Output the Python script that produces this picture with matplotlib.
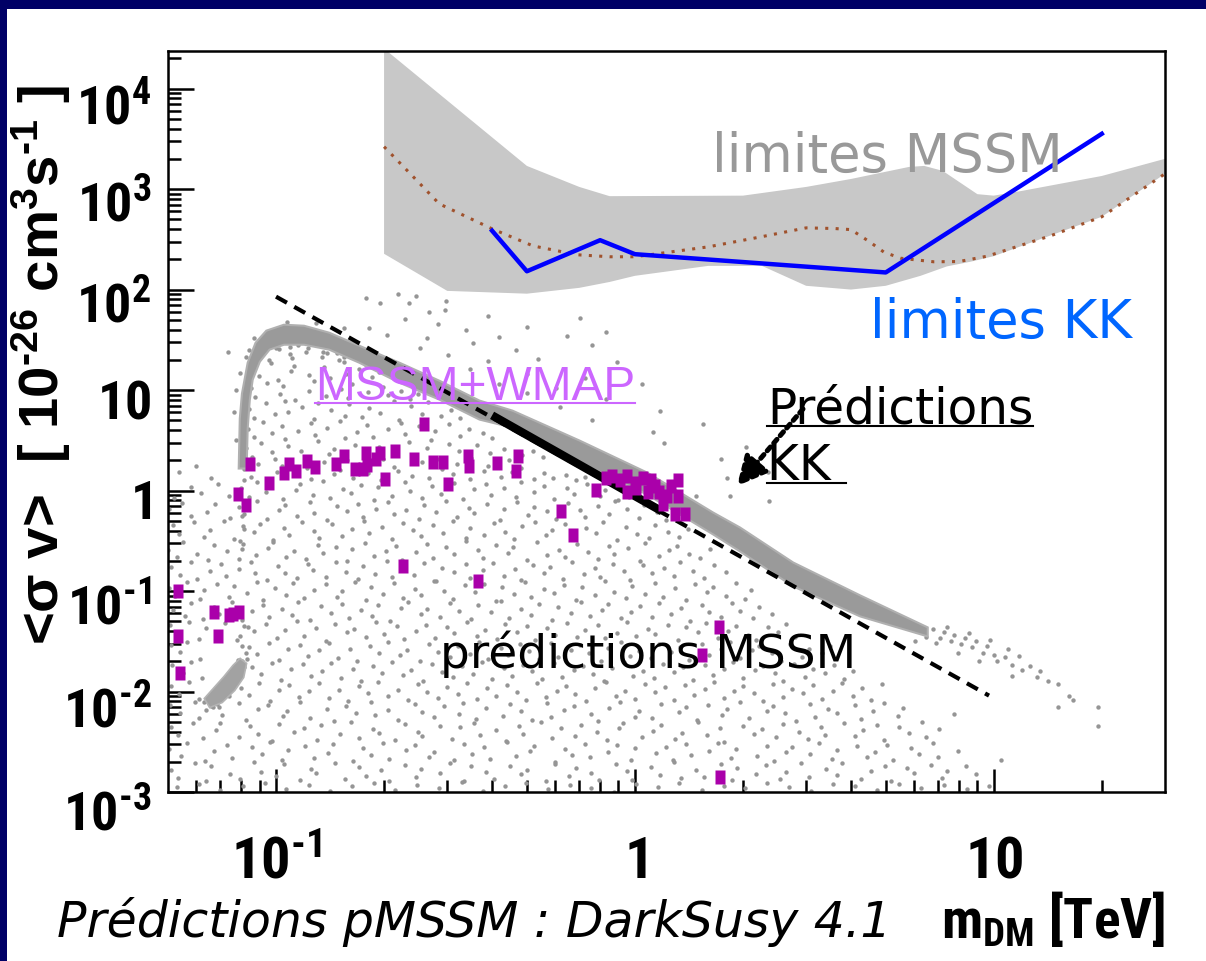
import os
import numpy as np
import matplotlib
matplotlib.use("Agg")
import matplotlib.pyplot as plt
from matplotlib import font_manager as fm
from matplotlib.font_manager import FontProperties
from matplotlib.lines import Line2D
from matplotlib.patches import Rectangle
import matplotlib.transforms as mtransforms
from matplotlib.ticker import NullFormatter

# ------------------------------------------------------------------ data
# grey band : "limites MSSM"
band_m_upper = [0.2, 0.5, 0.7, 0.85, 2.0, 3.0, 4.0, 5.8, 6.4, 7.2, 9.0, 10.0, 12.0, 20.0, 30.0]
band_sv_upper = [25000, 1700, 1050, 850, 860, 1050, 1260, 1660, 1700, 1520, 890, 860, 960, 1350, 2000]
band_m_lower = [0.2, 0.3, 0.5, 0.7, 0.85, 1.0, 1.6, 2.26, 3.0, 4.0, 5.0, 6.25, 7.4, 8.6, 10.0, 20.0, 30.0]
band_sv_lower = [227, 97, 91, 104, 119, 137, 172, 172, 109, 100, 109, 137, 170, 189, 215, 530, 1420]

# brown dotted curve inside the band
mssm_limit_m = [0.2, 0.24, 0.285, 0.4, 0.52, 0.69, 0.85, 1.0, 1.6, 2.2, 3.0, 3.6, 4.0, 4.5, 4.94, 5.5, 6.8, 8.0, 9.6, 14.4, 20, 30]
mssm_limit_sv = [2640, 1350, 713, 402, 272, 222, 212, 212, 266, 330, 411, 405, 395, 300, 236, 205, 189, 190, 215, 343, 530, 1420]

# blue line : "limites KK"
kk_limit_m = [0.4, 0.5, 0.8, 1.0, 5.0, 20.0]
kk_limit_sv = [385, 152, 310, 225, 148, 3550]

# KK predictions (dashed) and KK + WMAP (thick)
kk_pred_m = [0.1, 9.7]
kk_pred_sv = [85, 0.0091]
kk_wmap_m = [0.4, 1.19]
kk_wmap_sv = [5.6, 0.62]

# MSSM + WMAP points (magenta)
wmap_m = [0.0845, 0.0783, 0.0824, 0.0955, 0.105, 0.109, 0.114, 0.122, 0.128, 0.147,
          0.155, 0.166, 0.175, 0.178, 0.179, 0.190, 0.195, 0.201, 0.214, 0.259,
          0.242, 0.273, 0.292, 0.302, 0.342, 0.344, 0.414, 0.466, 0.471, 0.621,
          0.778, 0.671, 0.863, 0.951, 0.951, 1.05, 1.11, 1.09, 1.17, 1.23,
          1.20, 1.01, 1.32, 1.32, 1.29, 1.38, 0.0532, 0.0532, 0.0540, 0.0671,
          0.0689, 0.0740, 0.0789, 0.0760, 0.226, 0.366, 1.71, 1.54, 1.73, 0.908,
          1.14, 1.26, 1.00, 0.83]
wmap_sv = [1.85, 0.933, 0.71, 1.20, 1.48, 1.85, 1.58, 1.99, 1.73, 1.85,
           2.23, 1.62, 1.62, 2.39, 1.81, 2.08, 2.39, 1.29, 2.50, 4.63,
           2.08, 1.94, 1.94, 1.15, 2.23, 1.77, 1.90, 1.55, 2.23, 0.632,
           1.02, 0.357, 1.41, 1.38, 0.977, 1.32, 1.26, 0.977, 0.977, 0.89,
           0.74, 1.05, 1.26, 0.89, 0.59, 0.59, 0.099, 0.0354, 0.0152, 0.0612,
           0.0354, 0.0571, 0.0612, 0.0590, 0.176, 0.127, 0.0435, 0.0229, 0.0014, 1.26,
           1.12, 1.12, 1.20, 1.32]

# dense ridge of the pMSSM scan (log10 m, log10 <sv>), upper and lower edge
ridge_log_m_upper = [-1.104, -1.101, -1.095, -1.079, -1.057, -1.027, -0.978, -0.922, -0.852, -0.768, -0.656,
                     -0.545, -0.433, -0.341, -0.154, 0.034, 0.218, 0.293, 0.441, 0.628, 0.816]
ridge_log_sv_upper = [0.219, 0.716, 0.964, 1.272, 1.471, 1.591, 1.650, 1.640, 1.571, 1.441, 1.272,
                      1.093, 0.895, 0.795, 0.497, 0.179, -0.219, -0.368, -0.716, -1.044, -1.362]
ridge_log_m_lower = [-1.082, -1.079, -1.073, -1.065, -1.045, -1.018, -0.978, -0.922, -0.852, -0.768, -0.656,
                     -0.545, -0.433, -0.341, -0.154, 0.034, 0.218, 0.293, 0.441, 0.628, 0.816]
ridge_log_sv_lower = [0.219, 0.616, 0.905, 1.103, 1.282, 1.402, 1.451, 1.451, 1.402, 1.272, 1.073,
                      0.905, 0.706, 0.626, 0.278, -0.040, -0.437, -0.606, -0.954, -1.253, -1.452]

# dense light-mass clump near m ~ 0.07 TeV (log10 m, log10 <sv>)
clump_log_m = [-1.185, -1.20, -1.175, -1.145, -1.12, -1.10, -1.082, -1.09, -1.115, -1.15]
clump_log_sv = [-2.16, -2.07, -1.97, -1.85, -1.74, -1.67, -1.72, -1.86, -1.99, -2.11]

# scattered pMSSM scan points (log10 m, log10 <sv>), one row per strip of <sv>
scan_rows = [
    ([-1.041, -1.019, -0.992, -0.961, -0.955, -0.917, -0.872, -0.858, -0.824],
     [1.337, 1.301, 1.412, 1.356, 1.318, 1.381, 1.329, 1.364, 1.303]),
    ([-1.062, -1.047, -1.013, -0.995, -0.958, -0.951, -0.907, -0.866, -0.849, -0.811, -0.806, -0.769,
      -0.733, -0.712],
     [1.214, 1.137, 1.268, 1.102, 1.189, 1.243, 1.151, 1.226, 1.117, 1.279, 1.164, 1.205, 1.128, 1.176]),
    ([-1.071, -1.058, -1.026, -0.989, -0.981, -0.946, -0.909, -0.893, -0.861, -0.818, -0.799, -0.787,
      -0.744, -0.702, -0.689, -0.651, -0.628, -0.604],
     [1.018, 0.927, 1.073, 0.964, 1.041, 0.902, 0.989, 1.086, 0.943, 1.012, 0.916, 1.057, 0.979, 1.034,
      0.951, 0.991, 0.912, 0.958]),
    ([-1.074, -1.061, -1.029, -1.003, -0.976, -0.968, -0.929, -0.894, -0.882, -0.846, -0.808, -0.797,
      -0.761, -0.742, -0.709, -0.671, -0.658, -0.623, -0.592, -0.577, -0.541, -0.513, -0.486],
     [0.811, 0.724, 0.868, 0.757, 0.893, 0.782, 0.836, 0.713, 0.874, 0.798, 0.746, 0.859, 0.728, 0.817,
      0.771, 0.889, 0.704, 0.842, 0.763, 0.881, 0.739, 0.804, 0.721]),
    ([-1.079, -1.062, -1.037, -1.011, -0.983, -0.974, -0.938, -0.902, -0.891, -0.857, -0.821, -0.809,
      -0.773, -0.747, -0.729, -0.688, -0.652, -0.641, -0.603, -0.569, -0.556, -0.519, -0.488, -0.462,
      -0.424, -0.397],
     [0.613, 0.537, 0.682, 0.571, 0.644, 0.508, 0.597, 0.669, 0.552, 0.624, 0.691, 0.518, 0.586, 0.657,
      0.531, 0.608, 0.677, 0.563, 0.641, 0.503, 0.589, 0.664, 0.541, 0.617, 0.572, 0.526]),
    ([-1.083, -1.068, -1.041, -1.012, -1.004, -0.967, -0.931, -0.919, -0.884, -0.853, -0.838, -0.801,
      -0.779, -0.748, -0.713, -0.702, -0.664, -0.629, -0.611, -0.578, -0.552, -0.518, -0.491, -0.457,
      -0.441, -0.403, -0.366, -0.351, -0.314, -0.283, -0.257],
     [0.421, 0.336, 0.474, 0.381, 0.309, 0.446, 0.392, 0.327, 0.488, 0.362, 0.413, 0.304, 0.457, 0.371,
      0.433, 0.318, 0.401, 0.479, 0.344, 0.426, 0.311, 0.463, 0.389, 0.327, 0.452, 0.376, 0.418, 0.302,
      0.358, 0.397, 0.331]),
    ([-1.089, -1.071, -1.049, -1.021, -0.996, -0.984, -0.949, -0.913, -0.902, -0.866, -0.839, -0.821,
      -0.786, -0.759, -0.744, -0.707, -0.671, -0.659, -0.622, -0.593, -0.574, -0.538, -0.507, -0.496,
      -0.459, -0.421, -0.408, -0.372, -0.343, -0.318, -0.281, -0.252, -0.229, -0.191, -0.163, -0.138,
      -1.271, -1.224, -1.181],
     [0.214, 0.137, 0.268, 0.102, 0.189, 0.243, 0.151, 0.226, 0.117, 0.279, 0.164, 0.205, 0.128, 0.252,
      0.176, 0.107, 0.236, 0.194, 0.143, 0.287, 0.122, 0.217, 0.169, 0.261, 0.111, 0.198, 0.247, 0.134,
      0.182, 0.229, 0.115, 0.171, 0.121, 0.158, 0.106, 0.139, 0.182, 0.244, 0.129]),
    ([-1.098, -1.076, -1.053, -1.029, -1.017, -0.981, -0.944, -0.932, -0.897, -0.868, -0.851, -0.814,
      -0.791, -0.762, -0.727, -0.716, -0.678, -0.641, -0.627, -0.594, -0.566, -0.541, -0.503, -0.479,
      -0.447, -0.414, -0.402, -0.366, -0.331, -0.318, -0.281, -0.254, -0.226, -0.189, -0.171, -0.133,
      -0.098, -0.084, -0.047, -0.016, -1.284, -1.236, -1.208, -1.163, -1.131],
     [0.027, -0.064, 0.081, -0.018, 0.052, -0.089, 0.006, 0.069, -0.041, 0.093, -0.072, 0.018, -0.026,
      0.058, -0.093, 0.037, -0.051, 0.084, -0.009, -0.077, 0.046, -0.034, 0.071, -0.086, 0.013, 0.064,
      -0.047, 0.029, -0.069, 0.089, -0.012, 0.043, -0.081, 0.021, -0.038, 0.061, -0.058, 0.004, -0.092,
      -0.062, -0.071, 0.031, -0.028, 0.064, -0.052]),
    ([-1.297, -1.262, -1.238, -1.193, -1.171, -1.128, -1.102, -1.088, -1.053, -1.026, -0.991, -0.976,
      -0.942, -0.906, -0.893, -0.858, -0.829, -0.801, -0.772, -0.758, -0.722, -0.687, -0.671, -0.638,
      -0.603, -0.589, -0.554, -0.527, -0.496, -0.463, -0.448, -0.412, -0.377, -0.364, -0.328, -0.297,
      -0.282, -0.246, -0.219, -0.187, -0.154, -0.139, -0.102, -0.071, -0.056, -0.021, 0.012, 0.026,
      0.061, 0.087],
     [-0.183, -0.126, -0.257, -0.209, -0.138, -0.274, -0.164, -0.231, -0.108, -0.287, -0.196, -0.142,
      -0.249, -0.118, -0.221, -0.292, -0.157, -0.203, -0.131, -0.266, -0.179, -0.112, -0.238, -0.191,
      -0.283, -0.146, -0.214, -0.105, -0.259, -0.172, -0.226, -0.134, -0.297, -0.188, -0.119, -0.243,
      -0.167, -0.206, -0.279, -0.124, -0.198, -0.262, -0.151, -0.234, -0.109, -0.186, -0.271, -0.139,
      -0.218, -0.289]),
    ([-1.288, -1.271, -1.229, -1.201, -1.184, -1.146, -1.118, -1.093, -1.062, -1.044, -1.008, -0.979,
      -0.963, -0.928, -0.894, -0.881, -0.843, -0.816, -0.789, -0.754, -0.741, -0.704, -0.677, -0.646,
      -0.619, -0.597, -0.563, -0.536, -0.508, -0.472, -0.459, -0.421, -0.394, -0.363, -0.336, -0.314,
      -0.279, -0.247, -0.231, -0.196, -0.168, -0.137, -0.109, -0.088, -0.051, -0.026, 0.007, 0.038,
      0.056, 0.092, 0.124, 0.147],
     [-0.347, -0.431, -0.318, -0.462, -0.389, -0.306, -0.478, -0.356, -0.417, -0.329, -0.494, -0.371,
      -0.442, -0.311, -0.403, -0.468, -0.337, -0.451, -0.382, -0.304, -0.426, -0.363, -0.487, -0.322,
      -0.397, -0.456, -0.341, -0.419, -0.301, -0.473, -0.368, -0.438, -0.326, -0.409, -0.482, -0.352,
      -0.314, -0.447, -0.394, -0.336, -0.463, -0.377, -0.421, -0.309, -0.489, -0.358, -0.432, -0.476,
      -0.343, -0.411, -0.462, -0.386]),
    ([-1.301, -1.276, -1.258, -1.221, -1.189, -1.173, -1.138, -1.104, -1.091, -1.057, -1.021, -1.008,
      -0.972, -0.951, -0.916, -0.882, -0.869, -0.834, -0.801, -0.788, -0.752, -0.726, -0.693, -0.667,
      -0.649, -0.611, -0.578, -0.562, -0.527, -0.503, -0.471, -0.438, -0.422, -0.386, -0.354, -0.339,
      -0.302, -0.274, -0.246, -0.212, -0.196, -0.161, -0.131, -0.103, -0.072, -0.057, -0.019, 0.013,
      0.029, 0.066, 0.094, 0.118, 0.152, 0.181, 0.209],
     [-0.589, -0.663, -0.517, -0.628, -0.692, -0.546, -0.604, -0.679, -0.531, -0.643, -0.572, -0.508,
      -0.661, -0.597, -0.684, -0.538, -0.619, -0.562, -0.698, -0.584, -0.524, -0.649, -0.606, -0.551,
      -0.687, -0.613, -0.529, -0.671, -0.557, -0.634, -0.502, -0.594, -0.676, -0.543, -0.621, -0.566,
      -0.695, -0.511, -0.639, -0.587, -0.658, -0.534, -0.612, -0.681, -0.549, -0.627, -0.571, -0.699,
      -0.518, -0.653, -0.592, -0.547, -0.636, -0.668, -0.579]),
    ([-1.293, -1.267, -1.236, -1.219, -1.184, -1.152, -1.139, -1.103, -1.071, -1.058, -1.024, -0.994,
      -0.976, -0.941, -0.912, -0.897, -0.861, -0.834, -0.806, -0.772, -0.759, -0.724, -0.691, -0.676,
      -0.642, -0.616, -0.587, -0.553, -0.538, -0.504, -0.472, -0.459, -0.423, -0.396, -0.366, -0.334,
      -0.318, -0.284, -0.252, -0.237, -0.201, -0.174, -0.143, -0.112, -0.097, -0.062, -0.031, -0.014,
      0.022, 0.049, 0.081, 0.108, 0.126, 0.163, 0.192, 0.221, 0.254],
     [-0.764, -0.838, -0.712, -0.877, -0.796, -0.729, -0.853, -0.781, -0.707, -0.824, -0.893, -0.748,
      -0.819, -0.871, -0.733, -0.789, -0.856, -0.716, -0.807, -0.884, -0.752, -0.828, -0.703, -0.863,
      -0.776, -0.841, -0.724, -0.897, -0.768, -0.812, -0.736, -0.869, -0.791, -0.718, -0.846, -0.784,
      -0.892, -0.741, -0.817, -0.759, -0.878, -0.709, -0.833, -0.772, -0.859, -0.727, -0.801, -0.887,
      -0.744, -0.822, -0.766, -0.851, -0.713, -0.798, -0.874, -0.739, -0.815]),
    ([-1.298, -1.281, -1.247, -1.213, -1.201, -1.164, -1.131, -1.116, -1.082, -1.053, -1.037, -1.002,
      -0.971, -0.954, -0.921, -0.893, -0.862, -0.829, -0.816, -0.781, -0.749, -0.736, -0.702, -0.671,
      -0.647, -0.613, -0.596, -0.561, -0.532, -0.508, -0.473, -0.446, -0.421, -0.387, -0.371, -0.337,
      -0.306, -0.289, -0.253, -0.226, -0.198, -0.164, -0.148, -0.112, -0.083, -0.058, -0.024, -0.008,
      0.027, 0.057, 0.078, 0.113, 0.141, 0.167, 0.201, 0.218, 0.253, 0.281, 0.306, 0.324],
     [-0.973, -1.048, -0.912, -1.082, -0.991, -0.927, -1.061, -0.954, -1.023, -0.906, -1.094, -0.968,
      -1.037, -0.917, -1.071, -0.986, -0.933, -1.056, -1.002, -0.908, -1.087, -0.961, -1.029, -0.921,
      -1.068, -0.976, -1.043, -0.903, -0.997, -1.079, -0.941, -1.014, -0.926, -1.097, -0.958, -1.033,
      -0.913, -1.064, -0.982, -1.019, -0.937, -1.089, -0.964, -1.041, -0.904, -1.007, -1.073, -0.949,
      -1.026, -0.918, -1.058, -0.971, -1.092, -0.934, -1.011, -0.963, -1.049, -0.922, -1.076, -0.987]),
    ([-1.287, -1.253, -1.238, -1.204, -1.172, -1.158, -1.123, -1.094, -1.068, -1.036, -1.019, -0.984,
      -0.956, -0.939, -0.904, -0.874, -0.847, -0.816, -0.798, -0.762, -0.733, -0.716, -0.683, -0.652,
      -0.631, -0.597, -0.578, -0.544, -0.514, -0.489, -0.456, -0.437, -0.401, -0.373, -0.352, -0.318,
      -0.289, -0.266, -0.232, -0.214, -0.179, -0.151, -0.126, -0.092, -0.074, -0.039, -0.011, 0.014,
      0.047, 0.066, 0.101, 0.129, 0.153, 0.187, 0.206, 0.241, 0.271, 0.293, 0.328, 0.346, 0.381],
     [-1.186, -1.252, -1.117, -1.279, -1.163, -1.224, -1.108, -1.291, -1.197, -1.141, -1.263, -1.174,
      -1.236, -1.112, -1.284, -1.153, -1.219, -1.127, -1.271, -1.192, -1.248, -1.136, -1.296, -1.168,
      -1.106, -1.229, -1.181, -1.257, -1.121, -1.203, -1.276, -1.144, -1.213, -1.102, -1.267, -1.178,
      -1.239, -1.131, -1.287, -1.159, -1.221, -1.114, -1.247, -1.189, -1.133, -1.273, -1.206, -1.149,
      -1.259, -1.118, -1.231, -1.172, -1.294, -1.139, -1.211, -1.256, -1.124, -1.198, -1.268, -1.156,
      -1.227]),
    ([-1.296, -1.279, -1.243, -1.216, -1.196, -1.161, -1.143, -1.108, -1.079, -1.061, -1.027, -0.997,
      -0.974, -0.941, -0.922, -0.889, -0.861, -0.836, -0.803, -0.784, -0.749, -0.721, -0.698, -0.664,
      -0.643, -0.609, -0.581, -0.557, -0.523, -0.504, -0.469, -0.441, -0.418, -0.384, -0.363, -0.329,
      -0.301, -0.278, -0.244, -0.223, -0.189, -0.161, -0.138, -0.104, -0.083, -0.049, -0.021, 0.002,
      0.036, 0.057, 0.091, 0.119, 0.142, 0.176, 0.197, 0.231, 0.259, 0.282, 0.316, 0.337, 0.371, 0.399,
      0.422, 0.447],
     [-1.341, -1.418, -1.307, -1.473, -1.372, -1.436, -1.319, -1.489, -1.356, -1.402, -1.331, -1.464,
      -1.387, -1.302, -1.448, -1.363, -1.497, -1.324, -1.411, -1.378, -1.456, -1.312, -1.429, -1.349,
      -1.481, -1.396, -1.336, -1.467, -1.358, -1.421, -1.304, -1.443, -1.384, -1.477, -1.328, -1.407,
      -1.352, -1.492, -1.369, -1.433, -1.315, -1.459, -1.391, -1.343, -1.472, -1.414, -1.308, -1.449,
      -1.376, -1.427, -1.339, -1.486, -1.361, -1.408, -1.321, -1.469, -1.394, -1.346, -1.438, -1.483,
      -1.357, -1.412, -1.329, -1.453]),
    ([-1.294, -1.268, -1.249, -1.213, -1.074, -1.052, -1.019, -0.993, -0.968, -0.934, -0.912, -0.879,
      -0.853, -0.827, -0.793, -0.773, -0.738, -0.712, -0.688, -0.654, -0.634, -0.599, -0.574, -0.548,
      -0.514, -0.494, -0.459, -0.434, -0.408, -0.374, -0.354, -0.319, -0.294, -0.268, -0.234, -0.214,
      -0.179, -0.154, -0.128, -0.094, -0.074, -0.039, -0.014, 0.012, 0.046, 0.066, 0.101, 0.126, 0.152,
      0.186, 0.206, 0.241, 0.266, 0.292, 0.326, 0.346, 0.381, 0.406, 0.432, 0.466, 0.486, 0.521, 0.544],
     [-1.538, -1.611, -1.504, -1.673, -1.559, -1.627, -1.513, -1.688, -1.572, -1.536, -1.649, -1.591,
      -1.521, -1.664, -1.577, -1.698, -1.546, -1.618, -1.507, -1.637, -1.582, -1.694, -1.529, -1.603,
      -1.659, -1.551, -1.624, -1.511, -1.681, -1.568, -1.641, -1.531, -1.596, -1.677, -1.518, -1.655,
      -1.584, -1.541, -1.621, -1.692, -1.564, -1.509, -1.647, -1.593, -1.669, -1.524, -1.606, -1.557,
      -1.686, -1.532, -1.634, -1.579, -1.503, -1.662, -1.589, -1.547, -1.613, -1.699, -1.526, -1.652,
      -1.574, -1.617, -1.543]),
    ([-1.289, -1.258, -1.237, -1.207, -1.066, -1.043, -1.011, -0.986, -0.957, -0.926, -0.903, -0.871,
      -0.846, -0.818, -0.786, -0.763, -0.731, -0.706, -0.678, -0.646, -0.623, -0.591, -0.566, -0.538,
      -0.506, -0.483, -0.451, -0.426, -0.398, -0.366, -0.343, -0.311, -0.286, -0.258, -0.226, -0.203,
      -0.171, -0.146, -0.118, -0.086, -0.063, -0.031, -0.006, 0.022, 0.054, 0.077, 0.109, 0.134, 0.162,
      0.194, 0.217, 0.249, 0.274, 0.302, 0.334, 0.357, 0.389, 0.414, 0.442, 0.474, 0.497, 0.529, 0.554,
      0.582, 0.609],
     [-1.741, -1.812, -1.704, -1.869, -1.758, -1.826, -1.719, -1.887, -1.773, -1.731, -1.848, -1.796,
      -1.712, -1.863, -1.779, -1.898, -1.744, -1.817, -1.708, -1.836, -1.784, -1.893, -1.727, -1.802,
      -1.857, -1.751, -1.823, -1.711, -1.879, -1.766, -1.842, -1.733, -1.797, -1.874, -1.716, -1.853,
      -1.786, -1.742, -1.821, -1.891, -1.762, -1.707, -1.846, -1.794, -1.868, -1.723, -1.804, -1.756,
      -1.884, -1.734, -1.833, -1.778, -1.702, -1.861, -1.789, -1.747, -1.814, -1.897, -1.725, -1.851,
      -1.772, -1.816, -1.739, -1.876, -1.792]),
    ([-1.293, -1.271, -1.242, -1.214, -1.099, -1.076, -1.047, -1.018, -0.992, -0.963, -0.936, -0.907,
      -0.881, -0.853, -0.824, -0.799, -0.769, -0.743, -0.716, -0.687, -0.661, -0.631, -0.605, -0.578,
      -0.549, -0.523, -0.493, -0.467, -0.441, -0.411, -0.386, -0.356, -0.329, -0.303, -0.274, -0.248,
      -0.218, -0.192, -0.166, -0.136, -0.111, -0.081, -0.054, -0.028, 0.001, 0.027, 0.057, 0.083, 0.109,
      0.139, 0.164, 0.194, 0.221, 0.247, 0.276, 0.302, 0.332, 0.358, 0.384, 0.414, 0.439, 0.469, 0.496,
      0.522, 0.551, 0.577, 0.607, 0.633, 0.659, 0.688],
     [-1.948, -2.021, -1.906, -2.074, -1.963, -2.037, -1.918, -2.091, -1.981, -1.934, -2.052, -1.997,
      -1.912, -2.068, -1.984, -2.096, -1.941, -2.016, -1.903, -2.043, -1.988, -2.087, -1.926, -2.008,
      -2.061, -1.953, -2.029, -1.914, -2.079, -1.967, -2.046, -1.931, -2.001, -2.083, -1.917, -2.058,
      -1.991, -1.944, -2.024, -2.093, -1.961, -1.909, -2.049, -1.996, -2.071, -1.921, -2.006, -1.958,
      -2.088, -1.936, -2.033, -1.979, -1.904, -2.064, -1.993, -1.949, -2.014, -2.098, -1.924, -2.056,
      -1.973, -2.018, -1.939, -2.077, -1.994, -1.913, -2.041, -1.969, -2.082, -1.927]),
    ([-1.296, -1.267, -1.226, -1.214, -1.177, -1.151, -1.103, -1.084, -1.051, -1.022, -0.981, -0.969,
      -0.932, -0.906, -0.858, -0.839, -0.806, -0.777, -0.736, -0.724, -0.687, -0.661, -0.613, -0.594,
      -0.561, -0.532, -0.491, -0.479, -0.442, -0.416, -0.368, -0.349, -0.316, -0.287, -0.246, -0.234,
      -0.197, -0.171, -0.123, -0.104, -0.071, -0.042, -0.001, 0.011, 0.048, 0.074, 0.122, 0.141, 0.174,
      0.203, 0.244, 0.256, 0.293, 0.319, 0.367, 0.386, 0.419, 0.448, 0.489, 0.501, 0.538, 0.564, 0.612,
      0.631, 0.664, 0.693, 0.734, 0.746],
     [-2.134, -2.216, -2.103, -2.268, -2.157, -2.229, -2.118, -2.287, -2.172, -2.131, -2.247, -2.193,
      -2.109, -2.262, -2.178, -2.294, -2.141, -2.213, -2.106, -2.238, -2.184, -2.281, -2.124, -2.203,
      -2.257, -2.149, -2.221, -2.112, -2.276, -2.163, -2.244, -2.128, -2.196, -2.283, -2.116, -2.253,
      -2.187, -2.143, -2.224, -2.291, -2.161, -2.107, -2.249, -2.194, -2.267, -2.122, -2.206, -2.154,
      -2.286, -2.136, -2.232, -2.177, -2.101, -2.264, -2.191, -2.147, -2.212, -2.297, -2.126, -2.254,
      -2.171, -2.218, -2.138, -2.274, -2.192, -2.114, -2.243, -2.168]),
    ([-1.292, -1.274, -1.230, -1.203, -1.167, -1.156, -1.104, -1.073, -1.050, -1.011, -0.993, -0.949,
      -0.922, -0.886, -0.875, -0.823, -0.792, -0.769, -0.730, -0.712, -0.668, -0.641, -0.605, -0.594,
      -0.542, -0.511, -0.488, -0.449, -0.431, -0.387, -0.360, -0.324, -0.313, -0.261, -0.230, -0.207,
      -0.168, -0.150, -0.106, -0.079, -0.043, -0.032, 0.020, 0.051, 0.074, 0.113, 0.131, 0.175, 0.202,
      0.238, 0.249, 0.301, 0.332, 0.355, 0.394, 0.412, 0.456, 0.483, 0.519, 0.530, 0.582, 0.613, 0.636,
      0.675, 0.693, 0.737, 0.764, 0.800, 0.811, 0.848],
     [-2.352, -2.437, -2.318, -2.466, -2.381, -2.309, -2.452, -2.343, -2.419, -2.491, -2.327, -2.404,
      -2.361, -2.478, -2.336, -2.427, -2.304, -2.459, -2.372, -2.413, -2.486, -2.321, -2.398, -2.447,
      -2.339, -2.468, -2.356, -2.312, -2.431, -2.387, -2.495, -2.347, -2.423, -2.301, -2.462, -2.368,
      -2.441, -2.329, -2.407, -2.483, -2.359, -2.316, -2.449, -2.392, -2.334, -2.474, -2.411, -2.307,
      -2.436, -2.364, -2.498, -2.341, -2.419, -2.378, -2.456, -2.323, -2.401, -2.469, -2.349, -2.429,
      -2.311, -2.443, -2.382, -2.331, -2.487, -2.358, -2.415, -2.302, -2.451, -2.376]),
    ([-1.298, -1.264, -1.248, -1.199, -1.174, -1.136, -1.123, -1.066, -1.038, -1.017, -0.983, -0.967,
      -0.918, -0.893, -0.855, -0.842, -0.785, -0.757, -0.736, -0.702, -0.686, -0.637, -0.612, -0.574,
      -0.561, -0.504, -0.476, -0.455, -0.421, -0.405, -0.356, -0.331, -0.293, -0.280, -0.223, -0.195,
      -0.174, -0.140, -0.124, -0.075, -0.050, -0.012, 0.001, 0.058, 0.086, 0.107, 0.141, 0.157, 0.206,
      0.231, 0.269, 0.282, 0.339, 0.367, 0.388, 0.422, 0.438, 0.487, 0.512, 0.550, 0.563, 0.620, 0.648,
      0.669, 0.703, 0.719, 0.768, 0.793, 0.831, 0.844, 0.901],
     [-2.571, -2.642, -2.514, -2.688, -2.596, -2.533, -2.664, -2.552, -2.619, -2.503, -2.681, -2.587,
      -2.547, -2.659, -2.608, -2.526, -2.694, -2.563, -2.631, -2.511, -2.672, -2.581, -2.537, -2.648,
      -2.599, -2.684, -2.521, -2.617, -2.556, -2.669, -2.507, -2.639, -2.592, -2.544, -2.697, -2.576,
      -2.628, -2.518, -2.653, -2.602, -2.531, -2.686, -2.566, -2.611, -2.549, -2.677, -2.524, -2.634,
      -2.589, -2.509, -2.661, -2.573, -2.644, -2.538, -2.691, -2.598, -2.553, -2.626, -2.516, -2.667,
      -2.584, -2.541, -2.656, -2.605, -2.529, -2.679, -2.561, -2.622, -2.512, -2.649, -2.594]),
    ([-1.294, -1.272, -1.226, -1.195, -1.181, -1.128, -1.101, -1.062, -1.043, -1.001, -0.979, -0.933,
      -0.902, -0.888, -0.835, -0.808, -0.769, -0.750, -0.708, -0.686, -0.640, -0.609, -0.595, -0.542,
      -0.515, -0.476, -0.457, -0.415, -0.393, -0.347, -0.316, -0.302, -0.249, -0.222, -0.183, -0.164,
      -0.122, -0.100, -0.054, -0.023, -0.009, 0.044, 0.071, 0.110, 0.129, 0.171, 0.193, 0.239, 0.270,
      0.284, 0.337, 0.364, 0.403, 0.422, 0.464, 0.486, 0.532, 0.563, 0.577, 0.630, 0.657, 0.696, 0.715,
      0.757, 0.779, 0.825, 0.856, 0.870, 0.923, 0.950],
     [-2.783, -2.857, -2.712, -2.891, -2.746, -2.824, -2.869, -2.703, -2.798, -2.839, -2.725, -2.884,
      -2.767, -2.811, -2.708, -2.872, -2.753, -2.836, -2.781, -2.895, -2.729, -2.851, -2.774, -2.806,
      -2.716, -2.889, -2.741, -2.803, -2.866, -2.737, -2.822, -2.786, -2.893, -2.719, -2.844, -2.759,
      -2.808, -2.876, -2.722, -2.794, -2.881, -2.748, -2.831, -2.705, -2.863, -2.785, -2.847, -2.726,
      -2.879, -2.762, -2.817, -2.734, -2.871, -2.799, -2.711, -2.854, -2.776, -2.826, -2.707, -2.868,
      -2.793, -2.742, -2.886, -2.764, -2.815, -2.733, -2.858, -2.789, -2.744, -2.821]),
    ([-1.276, -1.214, -1.157, -1.093, -1.031, -0.972, -0.908, -0.851, -0.789, -0.727, -0.668, -0.606,
      -0.547, -0.483, -0.424, -0.362, -0.303, -0.241, -0.182, -0.121, -0.058, 0.003, 0.064, 0.123, 0.186,
      0.247, 0.306, 0.369, 0.428, 0.491, 0.552, 0.613, 0.674, 0.736, 0.797, 0.861, 0.924, 0.987],
     [-2.953, -2.918, -2.981, -2.937, -2.906, -2.969, -2.927, -2.992, -2.944, -2.911, -2.976, -2.933,
      -2.962, -2.903, -2.987, -2.941, -2.915, -2.973, -2.928, -2.958, -2.996, -2.921, -2.947, -2.909,
      -2.982, -2.936, -2.965, -2.913, -2.951, -2.989, -2.924, -2.943, -2.979, -2.917, -2.957, -2.931,
      -2.968, -2.942]),
]

scan_above_ridge = [(-0.75, 1.92), (-0.71, 1.87), (-0.66, 1.96), (-0.63, 1.87), (-0.61, 1.94), (-0.575, 1.78),
    (-0.53, 1.80), (-0.525, 1.89), (-0.74, 1.62), (-0.69, 1.55), (-0.64, 1.71), (-0.58, 1.52), (-0.55, 1.66),
    (-0.47, 1.60), (-0.38, 1.53), (-0.19, 1.54), (-0.154, 1.72), (-0.41, 1.74), (-0.30, 1.63), (-0.08, 1.58),
    (-0.60, 1.42), (-0.52, 1.35), (-0.45, 1.47), (-0.41, 1.29), (-0.33, 1.40), (-0.27, 1.31), (-0.12, 1.45),
    (-0.05, 1.28), (-0.46, 1.21), (-0.38, 1.06), (-0.30, 1.16), (-0.22, 1.02), (-0.14, 1.12), (0.02, 1.06),
    (-0.30, 0.97), (-0.21, 0.83), (-0.08, 0.91), (0.07, 0.79), (-0.12, 0.70), (0.05, 0.58), (0.19, 0.66),
    (0.08, 0.47), (0.24, 0.31), (0.31, 0.43), (0.257, 0.12), (0.265, -0.05), (0.374, -0.10), (0.17, -0.05),
    (0.37, 0.18), (-1.134, 1.38)]

scan_ridge_halo = [(-1.00, 1.42), (-0.96, 1.43), (-0.91, 1.42), (-0.87, 1.38), (-0.81, 1.33), (-0.75, 1.25),
    (-0.71, 1.19), (-0.65, 1.10), (-0.58, 0.99), (-1.112, 0.50), (-1.117, 0.78), (-1.112, 1.00),
    (-1.100, 1.17), (-1.085, 1.33), (-0.97, 1.68), (-0.89, 1.67), (-0.81, 1.62), (-1.06, 1.52),
    (-1.075, 1.40), (-0.94, 1.45), (-0.83, 1.37), (-0.62, 1.07), (-0.50, 0.88), (-1.09, 0.40)]

scan_light_clump = [(-1.18, -2.14), (-1.17, -2.08), (-1.165, -2.12), (-1.16, -2.03), (-1.155, -1.98),
    (-1.15, -2.06), (-1.145, -1.94), (-1.14, -2.01), (-1.135, -1.90), (-1.13, -1.96), (-1.125, -1.86),
    (-1.12, -1.92), (-1.115, -1.82), (-1.11, -1.88), (-1.105, -1.78), (-1.10, -1.84), (-1.10, -1.73),
    (-1.095, -1.70), (-1.09, -1.76), (-1.175, -2.02), (-1.15, -1.99), (-1.12, -1.80), (-1.105, -1.69),
    (-1.13, -2.04), (-1.16, -2.15), (-1.095, -1.55), (-1.10, -1.45), (-1.09, -1.35), (-1.09, 0.10),
    (-1.10, 0.00), (-1.085, -0.12), (-1.095, -0.25), (-1.09, -0.38), (-1.10, -0.50), (-1.095, -0.58),
    (-1.195, -2.18), (-1.20, -2.10), (-1.085, -1.62), (-1.08, -1.68)]

scan_heavy_tail = [(0.83, -1.38), (0.85, -1.47), (0.86, -1.41), (0.88, -1.50), (0.89, -1.44), (0.91, -1.53),
    (0.92, -1.47), (0.94, -1.56), (0.95, -1.50), (0.97, -1.62), (0.98, -1.55), (1.00, -1.64), (1.01, -1.70),
    (1.03, -1.66), (1.05, -1.74), (1.07, -1.65), (1.08, -1.79), (1.10, -1.75), (1.12, -1.86), (1.13, -1.80),
    (1.15, -1.90), (1.18, -1.93), (1.21, -2.04), (1.22, -2.08), (1.18, -2.15), (1.29, -2.15), (1.29, -2.34),
    (0.90, -1.62), (0.96, -1.70), (1.05, -1.85), (0.888, -2.22), (1.02, -2.68), (0.84, -1.52),
    (0.87, -1.36), (0.93, -1.42), (0.99, -1.49), (1.04, -1.58), (0.81, -1.46), (0.78, -1.50)]

x_major = [0.1, 1, 10]
x_major_labels = ['$10^{\u20101}$', '$1$', '$10$']
x_minor = [0.06, 0.07, 0.08, 0.09, 0.2, 0.3, 0.4, 0.5, 0.6, 0.7, 0.8, 0.9,
           2, 3, 4, 5, 6, 7, 8, 9, 20]
y_major = [1e-3, 1e-2, 1e-1, 1, 10, 1e2, 1e3, 1e4]
y_major_labels = ['$10^{\u20103}$', '$10^{\u20102}$', '$10^{\u20101}$', '$1$', '$10$',
                  '$10^{2}$', '$10^{3}$', '$10^{4}$']

# ------------------------------------------------------------------ fonts
_files = {os.path.basename(f.fname): f.fname for f in fm.fontManager.ttflist}


def _pick(cands, fallback_family):
    for c in cands:
        if c in _files:
            return _files[c]
    return fm.findfont(FontProperties(family=fallback_family, weight='bold'))


COND_BOLD = _pick(['NotoSans-ExtraCondensedBold.ttf', 'NotoSans-CondensedBold.ttf',
                   'LiberationSansNarrow-Bold.ttf', 'RobotoCondensed-Bold.ttf',
                   'DejaVuSansCondensed-Bold.ttf', 'LiberationSans-Bold.ttf'], 'DejaVu Sans')
HELV_BOLD = _pick(['LiberationSans-Bold.ttf', 'Arimo-Bold.ttf'], 'DejaVu Sans')


def _fc_file(path):
    return ':file=' + ''.join('\\' + ch if ch in '\\=_:,' else ch for ch in path)


try:
    plt.rcParams['mathtext.fontset'] = 'custom'
    plt.rcParams['mathtext.rm'] = _fc_file(COND_BOLD)
    plt.rcParams['mathtext.it'] = _fc_file(COND_BOLD)
    plt.rcParams['mathtext.bf'] = _fc_file(COND_BOLD)
    plt.rcParams['mathtext.sf'] = _fc_file(HELV_BOLD)
    plt.rcParams['mathtext.default'] = 'rm'
except Exception:
    plt.rcParams['mathtext.fontset'] = 'custom'
    plt.rcParams['mathtext.rm'] = 'Liberation Sans:bold'
    plt.rcParams['mathtext.it'] = 'Liberation Sans:bold'
    plt.rcParams['mathtext.bf'] = 'Liberation Sans:bold'
    plt.rcParams['mathtext.sf'] = 'Liberation Sans:bold'
    plt.rcParams['mathtext.default'] = 'rm'

plt.rcParams['font.family'] = ['DejaVu Sans']

# ------------------------------------------------------------------ figure
W, H = 1206, 962
fig = plt.figure(figsize=(W / 100, H / 100), dpi=100)
fig.patch.set_facecolor('#000066')
fig.add_artist(Rectangle((7 / W, 0), 1 - 7 / W, 1 - 10 / H, transform=fig.transFigure,
                         facecolor='white', edgecolor='none', zorder=-5))

ax = fig.add_axes([168 / W, 1 - 793 / H, 997 / W, 741 / H])
ax.set_facecolor('white')
ax.set_xscale('log')
ax.set_yscale('log')
ax.set_xlim(0.05, 30)
ax.set_ylim(1e-3, 10 ** 4.374)

# band
ax.fill(np.concatenate([band_m_upper, band_m_lower[::-1]]),
        np.concatenate([band_sv_upper, band_sv_lower[::-1]]),
        color='#c8c8c8', lw=0, zorder=1)
ax.plot(mssm_limit_m, mssm_limit_sv, color='#a0522d', lw=2.2, ls=(0, (1, 2.4)), zorder=2)
ax.plot(kk_limit_m, kk_limit_sv, color='#0000ff', lw=3.2, zorder=3)

# scan
row_pts = [p for lm, ls in scan_rows for p in zip(lm, ls)]
pts = np.array(row_pts + scan_above_ridge + scan_ridge_halo + scan_light_clump + scan_heavy_tail)
ax.scatter(10 ** pts[:, 0], 10 ** pts[:, 1], s=10, color='#959595', linewidths=0, zorder=3)
ridge_lm = np.concatenate([ridge_log_m_upper, ridge_log_m_lower[::-1]])
ridge_ls = np.concatenate([ridge_log_sv_upper, ridge_log_sv_lower[::-1]])
ax.fill(10 ** ridge_lm, 10 ** ridge_ls, facecolor='#9a9a9a', edgecolor='#b0b0b0', lw=1.5, zorder=3)
ax.fill(10 ** np.array(clump_log_m), 10 ** np.array(clump_log_sv), facecolor='#a2a2a2',
        edgecolor='#b4b4b4', lw=1.2, zorder=3)

# KK
ax.plot(kk_pred_m, kk_pred_sv, color='black', lw=3, ls=(0, (3, 2)), zorder=4)
ax.plot(kk_wmap_m, kk_wmap_sv, color='black', lw=6, solid_capstyle='butt', zorder=4)

rect_marker = [(-0.75, -1), (0.75, -1), (0.75, 1), (-0.75, 1), (-0.75, -1)]
ax.plot(wmap_m, wmap_sv, ls='none', marker=rect_marker, ms=9.4,
        mfc='#aa00aa', mec='none', zorder=5)

# ------------------------------------------------------------------ axes styling
for sp in ax.spines.values():
    sp.set_linewidth(1.8)
    sp.set_zorder(7)

ax.set_xticks(x_major, x_major_labels)
ax.set_xticks(x_minor, minor=True)
ax.xaxis.set_minor_formatter(NullFormatter())
ax.set_yticks(y_major, y_major_labels)
ax.set_yticks([k * 10.0 ** e for e in range(-3, 5) for k in range(2, 10) if k * 10.0 ** e < 2.3e4],
              minor=True)
ax.yaxis.set_minor_formatter(NullFormatter())

ax.tick_params(axis='x', which='major', direction='in', length=16.5, width=1.8, pad=61,
               labelsize=42, top=False)
ax.tick_params(axis='x', which='minor', direction='in', length=8.6, width=1.8, top=False)
ax.tick_params(axis='y', which='major', direction='in', length=18.7, width=1.8, pad=12,
               labelsize=39, right=False)
ax.tick_params(axis='y', which='minor', direction='in', length=9.4, width=1.8, right=False)

for lab in ax.get_xticklabels():
    lab.set_verticalalignment('baseline')

y_label_drop_px = [38, 35, 32, 27, 27, 32, 32, 35]
for lab, d in zip(ax.get_yticklabels(), y_label_drop_px):
    lab.set_verticalalignment('baseline')
    lab.set_transform(lab.get_transform() +
                      mtransforms.ScaledTranslation(0, -d / 100, fig.dpi_scale_trans))

# axis titles
ax.set_xlabel(r'm$_{\mathrm{DM}}$ [TeV]', fontproperties=FontProperties(fname=COND_BOLD, size=40))
ax.xaxis.set_label_coords(1.0, (793 - 938) / 741)
ax.xaxis.label.set_horizontalalignment('right')
ax.xaxis.label.set_verticalalignment('baseline')

ax.set_ylabel('<σ v>  [ 10$^{\\mathsf{\u201026}}$ cm$^{\\mathsf{3}}$s$^{\\mathsf{\u20101}}$ ]',
              fontproperties=FontProperties(fname=HELV_BOLD, size=40.5))
ax.yaxis.set_label_coords((41 - 168) / 997, (793 - 365) / 741)
ax.yaxis.label.set_verticalalignment('center')
ax.yaxis.label.set_horizontalalignment('center')

# ------------------------------------------------------------------ annotations
def ax_xy(px, py):
    return (px - 168) / 997, (793 - py) / 741


t_lim_mssm = ax.text(*ax_xy(712, 172), 'limites MSSM', transform=ax.transAxes, fontsize=38,
                     color='#999999', va='baseline', ha='left', zorder=8)
t_lim_kk = ax.text(*ax_xy(870, 338), 'limites KK', transform=ax.transAxes, fontsize=38,
                   color='#0066ff', va='baseline', ha='left', zorder=8)
t_wmap = ax.text(*ax_xy(315, 400), 'MSSM+WMAP', transform=ax.transAxes, fontsize=34.5,
                 family=['Liberation Sans', 'DejaVu Sans'], color='#cc66ff',
                 va='baseline', ha='left', zorder=8)
t_pred = ax.text(*ax_xy(767, 423), 'Prédictions', transform=ax.transAxes, fontsize=35,
                 color='black', va='baseline', ha='left', zorder=8)
t_kk = ax.text(*ax_xy(767, 480), 'KK ', transform=ax.transAxes, fontsize=35,
               color='black', va='baseline', ha='left', zorder=8)
t_pmssm = ax.text(*ax_xy(440, 668), 'prédictions MSSM', transform=ax.transAxes, fontsize=33.8,
                  color='black', va='baseline', ha='left', zorder=8)

ax.annotate('', xy=ax_xy(737, 487), xytext=ax_xy(803, 410),
            xycoords='axes fraction', textcoords='axes fraction',
            arrowprops=dict(arrowstyle='-|>,head_length=0.8,head_width=0.4', color='black',
                            lw=3.6, ls=(0, (1, 1)), mutation_scale=22, shrinkA=0, shrinkB=0),
            zorder=8)

fig.text(57 / W, 1 - 937 / H, 'Prédictions pMSSM : DarkSusy 4.1', fontsize=35.2,
         style='italic', color='black', va='baseline', ha='left')

# underlines
fig.canvas.draw()
renderer = fig.canvas.get_renderer()


def underline(t, color, below=4, lw=1.5, extra=0):
    bb = t.get_window_extent(renderer)
    x0, y0 = t.get_transform().transform(t.get_position())
    fig.add_artist(Line2D([bb.x0, bb.x1 + extra], [y0 - below, y0 - below], color=color, lw=lw,
                          transform=mtransforms.IdentityTransform(), zorder=9))


underline(t_wmap, '#cc66ff', below=4)
underline(t_pred, 'black', below=4)
underline(t_kk, 'black', below=4)

fig.savefig('out.png', dpi=100, facecolor=fig.get_facecolor())
